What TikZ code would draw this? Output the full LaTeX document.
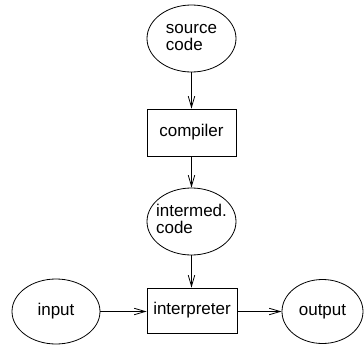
\documentclass[tikz,border=0pt]{standalone}
\usepackage{fontspec}
\setmainfont{Liberation Sans}
\usetikzlibrary{shapes.geometric,arrows.meta}
\newcommand{\twolines}[2]{\makebox[0pt]{\begin{tabular}{@{}l@{}}#1\\[-1bp]#2\end{tabular}}}
\begin{document}
\begin{tikzpicture}[x=1bp,y=-1bp,
  every node/.style={font=\fontsize{17bp}{18bp}\selectfont, inner sep=0pt, line width=0.8bp, draw},
  oval/.style={ellipse},
  stepbox/.style={rectangle},
  flow/.style={line width=0.8bp, -{Straight Barb[length=11bp,width=6.5bp,line width=0.8bp]}}]
\useasboundingbox (0,0) rectangle (364,345);
\node[oval, minimum width=89bp, minimum height=67bp] (src) at (191.5,38.5) {\twolines{source}{code}};
\node[stepbox, minimum width=89bp, minimum height=47bp] (comp) at (191.5,132.5) {compiler};
\node[oval, minimum width=89bp, minimum height=67bp] (inter) at (191.5,221.5) {\twolines{intermed.}{code}};
\node[stepbox, minimum width=90bp, minimum height=45bp] (interp) at (192,310.5) {interpreter};
\node[oval, minimum width=88bp, minimum height=65bp] (in) at (56,311.5) {\makebox[0pt]{input}};
\node[oval, minimum width=81bp, minimum height=64bp] (out) at (322.5,311.5) {\makebox[0pt]{output}};
\draw[flow] (src) -- (comp);
\draw[flow] (comp) -- (inter);
\draw[flow] (inter) -- (interp.north -| inter);
\draw[flow] (in) -- (interp.west |- in);
\draw[flow] (interp.east |- out) -- (out);
\end{tikzpicture}
\end{document}
